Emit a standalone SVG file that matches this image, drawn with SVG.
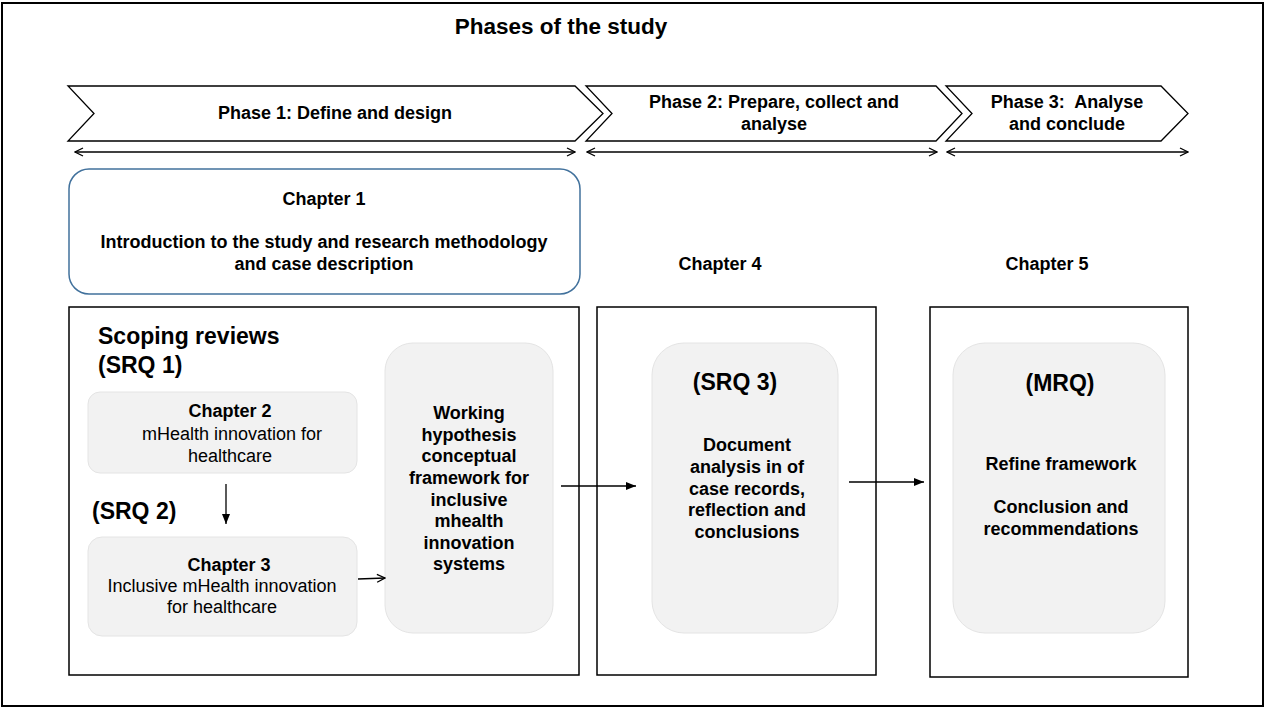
<svg xmlns="http://www.w3.org/2000/svg" width="1266" height="709" viewBox="0 0 1266 709">
  <defs>
    <marker id="open" viewBox="0 0 10 10" refX="9" refY="5" markerWidth="10" markerHeight="10" markerUnits="userSpaceOnUse" orient="auto-start-reverse">
      <path d="M1,1 L9,5 L1,9" fill="none" stroke="#000" stroke-width="1.3"/>
    </marker>
    <marker id="solid" viewBox="0 0 10 10" refX="10" refY="5" markerWidth="10" markerHeight="10" markerUnits="userSpaceOnUse" orient="auto">
      <path d="M0,1 L10,5 L0,9 Z" fill="#000"/>
    </marker>
  </defs>
  <style>
    text { font-family: "Liberation Sans", Arial, sans-serif; fill: #000; text-anchor: middle; }
    .b { font-weight: bold; font-size: 18px; }
    .r { font-size: 18px; }
    .big { font-weight: bold; font-size: 23px; }
    .phase { fill: #fff; stroke: #000; stroke-width: 1.3; }
    .frame { fill: #fff; stroke: #000; stroke-width: 1.5; }
    .soft { fill: #f2f2f2; stroke: #e4e4e4; stroke-width: 1; }
    .line { fill: none; stroke: #000; stroke-width: 1.3; }
  </style>

  <rect x="2" y="3" width="1261" height="703" fill="#fff" stroke="#000" stroke-width="2"/>

  <text x="561" y="34" style="font-weight:bold;font-size:22.5px">Phases of the study</text>

  <!-- phase chevrons -->
  <g id="phase1">
    <polygon class="phase" points="68,86 575,86 603,113.5 575,141 68,141 94,113.5"/>
    <text class="b" x="335" y="119">Phase 1: Define and design</text>
  </g>
  <g id="phase2">
    <polygon class="phase" points="586,86 936,86 962,113.5 936,141 586,141 612,113.5"/>
    <text class="b" x="774" y="108">Phase 2: Prepare, collect and</text>
    <text class="b" x="774" y="130">analyse</text>
  </g>
  <g id="phase3">
    <polygon class="phase" points="946,86 1161,86 1188,113.5 1161,141 946,141 972,113.5"/>
    <text class="b" x="1067" y="108" xml:space="preserve">Phase 3:  Analyse</text>
    <text class="b" x="1067" y="130">and conclude</text>
  </g>

  <g id="chapter1">
    <rect x="69" y="169" width="511" height="125" rx="20" fill="#fff" stroke="#41719c" stroke-width="1.5"/>
    <text class="b" x="324" y="205">Chapter 1</text>
    <text class="b" x="324" y="248">Introduction to the study and research methodology</text>
    <text class="b" x="324" y="270">and case description</text>
  </g>

  <g id="chapter4-label"><text class="b" x="720" y="270">Chapter 4</text></g>
  <g id="chapter5-label"><text class="b" x="1047" y="270">Chapter 5</text></g>

  <!-- phase frames -->
  <g id="frame1">
    <rect class="frame" x="69" y="307" width="510" height="368"/>
    <text class="big" x="98" y="344" style="text-anchor:start">Scoping reviews</text>
    <text class="big" x="98" y="373" style="text-anchor:start">(SRQ 1)</text>
    <text class="big" x="92" y="519" style="text-anchor:start">(SRQ 2)</text>
  </g>
  <g id="frame2"><rect class="frame" x="597" y="307" width="279" height="368"/></g>
  <g id="frame3"><rect class="frame" x="930" y="307" width="258" height="370"/></g>

  <g id="chapter2">
    <rect class="soft" x="88" y="392" width="269" height="81" rx="12"/>
    <text class="b" x="230" y="417">Chapter 2</text>
    <text class="r" x="232" y="440">mHealth innovation for</text>
    <text class="r" x="230" y="462">healthcare</text>
  </g>

  <g id="chapter3">
    <rect class="soft" x="88" y="537" width="269" height="99" rx="14"/>
    <text class="b" x="229" y="571">Chapter 3</text>
    <text class="r" x="222" y="592">Inclusive mHealth innovation</text>
    <text class="r" x="222" y="613">for healthcare</text>
  </g>

  <g id="hypothesis">
    <rect class="soft" x="385" y="343" width="168" height="290" rx="28"/>
    <text class="b" x="469" y="419">Working</text>
    <text class="b" x="469" y="441">hypothesis</text>
    <text class="b" x="469" y="462">conceptual</text>
    <text class="b" x="469" y="484">framework for</text>
    <text class="b" x="469" y="506">inclusive</text>
    <text class="b" x="469" y="527">mhealth</text>
    <text class="b" x="469" y="549">innovation</text>
    <text class="b" x="469" y="570">systems</text>
  </g>

  <g id="srq3">
    <rect class="soft" x="652" y="343" width="186" height="290" rx="32"/>
    <text class="big" x="735" y="390">(SRQ 3)</text>
    <text class="b" x="747" y="451">Document</text>
    <text class="b" x="747" y="473">analysis in of</text>
    <text class="b" x="747" y="495">case records,</text>
    <text class="b" x="747" y="516">reflection and</text>
    <text class="b" x="747" y="538">conclusions</text>
  </g>

  <g id="mrq">
    <rect class="soft" x="953" y="343" width="212" height="290" rx="32"/>
    <text class="big" x="1060" y="391">(MRQ)</text>
    <text class="b" x="1061" y="470">Refine framework</text>
    <text class="b" x="1061" y="513">Conclusion and</text>
    <text class="b" x="1061" y="535">recommendations</text>
  </g>

  <!-- connectors -->
  <g id="connectors">
    <line class="line" x1="75" y1="152" x2="575" y2="152" marker-start="url(#open)" marker-end="url(#open)"/>
    <line class="line" x1="587" y1="152" x2="937" y2="152" marker-start="url(#open)" marker-end="url(#open)"/>
    <line class="line" x1="947" y1="152" x2="1188" y2="152" marker-start="url(#open)" marker-end="url(#open)"/>
    <line class="line" x1="226" y1="484" x2="226" y2="524" marker-end="url(#solid)"/>
    <line class="line" x1="358" y1="579" x2="385" y2="578" marker-end="url(#open)"/>
    <line class="line" x1="561" y1="486" x2="636" y2="486" marker-end="url(#solid)"/>
    <line class="line" x1="849" y1="482" x2="924" y2="482" marker-end="url(#solid)"/>
  </g>
</svg>
